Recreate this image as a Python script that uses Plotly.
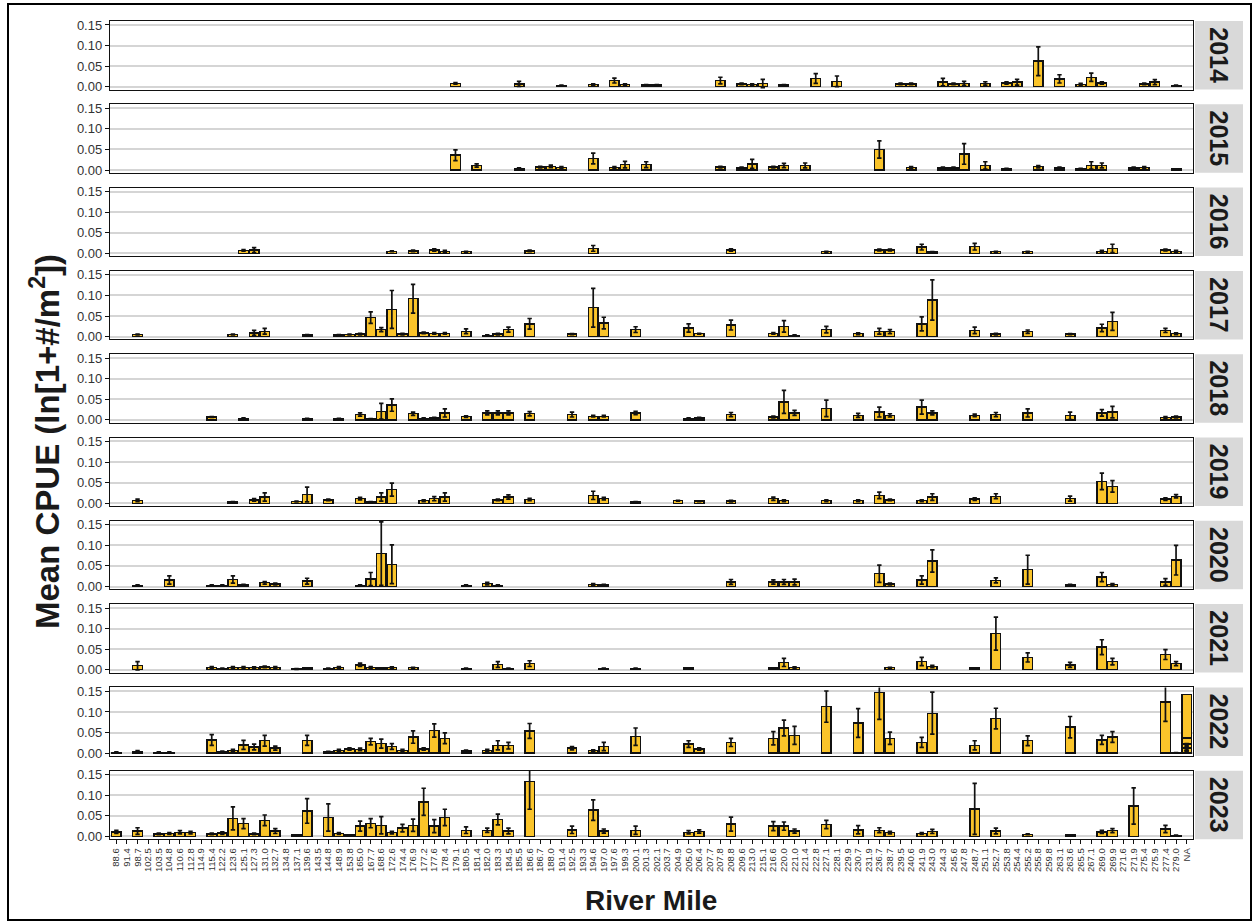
import plotly.graph_objects as go

# River-mile categories shared by every panel (order of the bottom axis)
river_miles = [
    "88.6", "91.4", "98.7", "102.5", "103.5", "104.8", "110.6", "112.8", "114.9", "115.4",
    "122.2", "123.6", "125.1", "127.3", "131.0", "132.7", "134.8", "137.1", "139.6", "143.5",
    "144.8", "148.9", "153.8", "165.0", "167.7", "168.6", "172.6", "174.4", "176.9", "177.2",
    "177.6", "178.4", "179.1", "180.5", "181.4", "182.0", "183.3", "184.5", "185.5", "186.6",
    "186.7", "188.0", "191.4", "192.5", "193.3", "194.6", "197.0", "197.6", "199.3", "200.1",
    "201.3", "202.1", "203.7", "204.9", "205.0", "206.4", "207.7", "207.8", "208.8", "209.6",
    "213.0", "215.1", "216.6", "220.0", "221.0", "221.4", "222.8", "227.1", "228.1", "229.9",
    "230.7", "231.9", "236.7", "238.7", "239.5", "240.6", "241.9", "243.0", "244.3", "245.6",
    "247.8", "248.7", "251.1", "252.7", "253.8", "254.4", "255.2", "255.8", "259.8", "263.1",
    "263.6", "265.5", "267.1", "269.0", "269.9", "271.6", "271.9", "275.4", "275.9", "277.4",
    "279.0", "NA",
]

years = [2014, 2015, 2016, 2017, 2018, 2019, 2020, 2021, 2022, 2023]

# ---- mean CPUE and standard error by river mile, one set of lists per year ----
rm_2014 = ["179.1", "185.5", "191.4", "194.6", "197.6", "199.3", "201.3", "202.1", "207.8", "209.6",
           "213.0", "215.1", "220.0", "222.8", "228.1", "239.5", "240.6", "244.3", "245.6", "247.8",
           "251.1", "253.8", "254.4", "255.8", "263.1", "265.5", "267.1", "269.0", "275.4", "275.9",
           "279.0"]
cpue_2014 = [0.008, 0.007, 0.003, 0.005, 0.015, 0.005, 0.004, 0.004, 0.015, 0.007,
             0.005, 0.008, 0.004, 0.020, 0.013, 0.007, 0.007, 0.011, 0.007, 0.008,
             0.008, 0.009, 0.011, 0.062, 0.019, 0.006, 0.023, 0.009, 0.007, 0.011,
             0.003]
se_2014 = [0.002, 0.006, 0.001, 0.002, 0.006, 0.002, 0.001, 0.001, 0.008, 0.002,
           0.002, 0.010, 0.001, 0.012, 0.013, 0.002, 0.002, 0.009, 0.002, 0.005,
           0.004, 0.003, 0.007, 0.035, 0.010, 0.002, 0.010, 0.003, 0.002, 0.006,
           0.001]

rm_2015 = ["179.1", "181.4", "185.5", "186.7", "188.0", "191.4", "194.6", "197.6", "199.3", "201.3",
           "207.8", "209.6", "213.0", "216.6", "220.0", "221.4", "236.7", "240.6", "244.3", "245.6",
           "247.8", "251.1", "253.8", "255.8", "263.1", "265.5", "267.1", "269.0", "271.9", "275.4",
           "279.0"]
cpue_2015 = [0.036, 0.011, 0.004, 0.007, 0.009, 0.006, 0.028, 0.006, 0.013, 0.013,
             0.007, 0.005, 0.015, 0.007, 0.011, 0.011, 0.050, 0.006, 0.005, 0.005,
             0.039, 0.011, 0.003, 0.008, 0.005, 0.003, 0.011, 0.011, 0.005, 0.006,
             0.002]
se_2015 = [0.013, 0.004, 0.001, 0.002, 0.003, 0.002, 0.013, 0.002, 0.008, 0.007,
           0.002, 0.002, 0.011, 0.002, 0.005, 0.006, 0.021, 0.002, 0.002, 0.002,
           0.025, 0.009, 0.001, 0.003, 0.002, 0.001, 0.009, 0.006, 0.002, 0.002,
           0.001]

rm_2016 = ["125.1", "127.3", "172.6", "176.9", "177.6", "178.4", "180.5", "186.6", "194.6", "208.8",
           "227.1", "236.7", "238.7", "241.9", "243.0", "248.7", "252.7", "255.2", "269.0", "269.9",
           "277.4", "279.0"]
cpue_2016 = [0.007, 0.008, 0.005, 0.006, 0.008, 0.005, 0.004, 0.006, 0.012, 0.008,
             0.004, 0.008, 0.008, 0.015, 0.003, 0.016, 0.004, 0.004, 0.005, 0.012,
             0.008, 0.005]
se_2016 = [0.002, 0.006, 0.001, 0.002, 0.003, 0.002, 0.001, 0.002, 0.007, 0.003,
           0.001, 0.002, 0.002, 0.007, 0.001, 0.008, 0.001, 0.001, 0.002, 0.010,
           0.002, 0.002]

rm_2017 = ["98.7", "123.6", "127.3", "131.0", "139.6", "148.9", "153.8", "165.0", "167.7", "168.6",
           "172.6", "174.4", "176.9", "177.2", "177.6", "178.4", "180.5", "182.0", "183.3", "184.5",
           "186.6", "192.5", "194.6", "197.0", "200.1", "205.0", "206.4", "208.8", "216.6", "220.0",
           "221.0", "227.1", "230.7", "236.7", "238.7", "241.9", "243.0", "248.7", "252.7", "255.2",
           "263.6", "269.0", "269.9", "277.4", "279.0"]
cpue_2017 = [0.005, 0.005, 0.009, 0.013, 0.004, 0.004, 0.005, 0.006, 0.046, 0.017,
             0.066, 0.006, 0.092, 0.009, 0.008, 0.008, 0.013, 0.003, 0.006, 0.017,
             0.031, 0.006, 0.070, 0.033, 0.017, 0.021, 0.007, 0.028, 0.008, 0.025,
             0.003, 0.017, 0.007, 0.013, 0.012, 0.031, 0.089, 0.015, 0.006, 0.012,
             0.006, 0.021, 0.037, 0.015, 0.007]
se_2017 = [0.001, 0.001, 0.006, 0.007, 0.001, 0.001, 0.001, 0.002, 0.014, 0.005,
           0.046, 0.002, 0.035, 0.002, 0.002, 0.002, 0.006, 0.001, 0.002, 0.006,
           0.013, 0.001, 0.047, 0.014, 0.007, 0.010, 0.001, 0.012, 0.002, 0.014,
           0.001, 0.008, 0.002, 0.007, 0.005, 0.017, 0.049, 0.008, 0.002, 0.004,
           0.001, 0.009, 0.022, 0.005, 0.002]

rm_2018 = ["115.4", "125.1", "139.6", "148.9", "165.0", "167.7", "168.6", "172.6", "176.9", "177.2",
           "177.6", "178.4", "180.5", "182.0", "183.3", "184.5", "186.6", "192.5", "194.6", "197.0",
           "200.1", "205.0", "206.4", "208.8", "216.6", "220.0", "221.0", "227.1", "230.7", "236.7",
           "238.7", "241.9", "243.0", "248.7", "252.7", "255.2", "263.6", "269.0", "269.9", "277.4",
           "279.0"]
cpue_2018 = [0.007, 0.004, 0.003, 0.003, 0.013, 0.002, 0.021, 0.036, 0.015, 0.004,
             0.005, 0.017, 0.008, 0.017, 0.017, 0.017, 0.015, 0.013, 0.009, 0.009,
             0.017, 0.004, 0.005, 0.013, 0.007, 0.044, 0.017, 0.028, 0.011, 0.019,
             0.011, 0.031, 0.017, 0.011, 0.013, 0.017, 0.010, 0.017, 0.019, 0.006,
             0.007]
se_2018 = [0.001, 0.001, 0.001, 0.001, 0.004, 0.001, 0.019, 0.015, 0.004, 0.001,
           0.001, 0.010, 0.002, 0.005, 0.005, 0.005, 0.005, 0.006, 0.002, 0.002,
           0.004, 0.001, 0.001, 0.005, 0.002, 0.028, 0.006, 0.020, 0.005, 0.012,
           0.004, 0.017, 0.005, 0.003, 0.005, 0.010, 0.009, 0.008, 0.014, 0.002,
           0.002]

rm_2019 = ["98.7", "123.6", "127.3", "131.0", "137.1", "139.6", "144.8", "165.0", "167.7", "168.6",
           "172.6", "177.2", "177.6", "178.4", "183.3", "184.5", "186.6", "194.6", "197.0", "200.1",
           "204.9", "206.4", "208.8", "216.6", "220.0", "227.1", "230.7", "236.7", "238.7", "241.9",
           "243.0", "248.7", "252.7", "263.6", "269.0", "269.9", "277.4", "279.0"]
cpue_2019 = [0.007, 0.003, 0.008, 0.015, 0.004, 0.021, 0.008, 0.011, 0.003, 0.015,
             0.033, 0.006, 0.011, 0.015, 0.008, 0.015, 0.009, 0.019, 0.011, 0.003,
             0.006, 0.005, 0.005, 0.011, 0.006, 0.006, 0.006, 0.019, 0.008, 0.006,
             0.015, 0.010, 0.017, 0.011, 0.053, 0.041, 0.010, 0.017]
se_2019 = [0.003, 0.001, 0.003, 0.010, 0.001, 0.018, 0.002, 0.003, 0.001, 0.010,
           0.016, 0.002, 0.005, 0.010, 0.002, 0.005, 0.003, 0.010, 0.003, 0.001,
           0.001, 0.001, 0.002, 0.004, 0.002, 0.002, 0.002, 0.008, 0.002, 0.002,
           0.008, 0.003, 0.006, 0.006, 0.020, 0.014, 0.003, 0.004]

rm_2020 = ["98.7", "104.8", "115.4", "122.2", "123.6", "125.1", "131.0", "132.7", "139.6", "165.0",
           "167.7", "168.6", "172.6", "180.5", "182.0", "183.3", "194.6", "197.0", "208.8", "216.6",
           "220.0", "221.0", "236.7", "238.7", "241.9", "243.0", "252.7", "255.2", "263.6", "269.0",
           "269.9", "277.4", "279.0"]
cpue_2020 = [0.003, 0.016, 0.003, 0.003, 0.017, 0.004, 0.009, 0.006, 0.013, 0.003,
             0.018, 0.080, 0.054, 0.003, 0.007, 0.003, 0.005, 0.004, 0.011, 0.011,
             0.011, 0.011, 0.031, 0.006, 0.016, 0.062, 0.015, 0.041, 0.004, 0.023,
             0.005, 0.011, 0.064]
se_2020 = [0.001, 0.010, 0.001, 0.001, 0.009, 0.001, 0.003, 0.002, 0.007, 0.001,
           0.016, 0.077, 0.047, 0.001, 0.003, 0.001, 0.002, 0.001, 0.006, 0.005,
           0.006, 0.007, 0.021, 0.002, 0.010, 0.027, 0.006, 0.035, 0.001, 0.011,
           0.002, 0.008, 0.036]

rm_2021 = ["98.7", "115.4", "122.2", "123.6", "125.1", "127.3", "131.0", "132.7", "137.1", "139.6",
           "144.8", "148.9", "165.0", "167.7", "168.6", "172.6", "176.9", "180.5", "183.3", "184.5",
           "186.6", "197.0", "200.1", "205.0", "216.6", "220.0", "221.0", "238.7", "241.9", "243.0",
           "248.7", "252.7", "255.2", "263.6", "269.0", "269.9", "277.4", "279.0"]
cpue_2021 = [0.010, 0.006, 0.003, 0.006, 0.006, 0.005, 0.007, 0.006, 0.002, 0.004,
             0.003, 0.006, 0.012, 0.006, 0.004, 0.005, 0.005, 0.003, 0.013, 0.003,
             0.015, 0.003, 0.003, 0.004, 0.004, 0.018, 0.005, 0.005, 0.020, 0.008,
             0.004, 0.088, 0.030, 0.012, 0.055, 0.020, 0.037, 0.015]
se_2021 = [0.010, 0.002, 0.001, 0.002, 0.002, 0.002, 0.002, 0.002, 0.001, 0.001,
           0.001, 0.002, 0.004, 0.002, 0.001, 0.002, 0.001, 0.001, 0.007, 0.001,
           0.007, 0.001, 0.001, 0.001, 0.001, 0.010, 0.002, 0.001, 0.010, 0.003,
           0.001, 0.040, 0.011, 0.006, 0.018, 0.008, 0.012, 0.005]

rm_2022 = ["88.6", "98.7", "103.5", "104.8", "115.4", "122.2", "123.6", "125.1", "127.3", "131.0",
           "132.7", "139.6", "144.8", "148.9", "153.8", "165.0", "167.7", "168.6", "172.6", "174.4",
           "176.9", "177.2", "177.6", "178.4", "180.5", "182.0", "183.3", "184.5", "186.6", "192.5",
           "194.6", "197.0", "200.1", "205.0", "206.4", "208.8", "216.6", "220.0", "221.0", "227.1",
           "230.7", "236.7", "238.7", "241.9", "243.0", "248.7", "252.7", "255.2", "263.6", "269.0",
           "269.9", "277.4", "279.0"]
cpue_2022 = [0.002, 0.004, 0.002, 0.002, 0.032, 0.004, 0.007, 0.020, 0.015, 0.030,
             0.012, 0.031, 0.003, 0.007, 0.010, 0.009, 0.028, 0.023, 0.016, 0.007,
             0.039, 0.010, 0.055, 0.036, 0.005, 0.007, 0.019, 0.018, 0.054, 0.012,
             0.006, 0.016, 0.040, 0.022, 0.010, 0.026, 0.036, 0.061, 0.043, 0.113,
             0.073, 0.148, 0.036, 0.026, 0.097, 0.019, 0.084, 0.030, 0.063, 0.032,
             0.039, 0.124, 0.001]
se_2022 = [0.001, 0.002, 0.001, 0.001, 0.013, 0.001, 0.002, 0.011, 0.007, 0.013,
           0.005, 0.012, 0.001, 0.002, 0.003, 0.003, 0.008, 0.011, 0.007, 0.002,
           0.015, 0.003, 0.016, 0.013, 0.002, 0.002, 0.011, 0.008, 0.018, 0.004,
           0.002, 0.010, 0.021, 0.008, 0.003, 0.010, 0.016, 0.019, 0.022, 0.038,
           0.035, 0.066, 0.015, 0.012, 0.051, 0.011, 0.025, 0.012, 0.026, 0.011,
           0.013, 0.047, 0.0005]
# sites without a recorded river mile in 2022, stacked in the NA column
na_2022_cpue = [0.012, 0.010, 0.015, 0.105]
na_2022_se = [0.006, 0.005, 0.008, None]

rm_2023 = ["88.6", "98.7", "103.5", "104.8", "110.6", "112.8", "115.4", "122.2", "123.6", "125.1",
           "127.3", "131.0", "132.7", "137.1", "139.6", "144.8", "148.9", "153.8", "165.0", "167.7",
           "168.6", "172.6", "174.4", "176.9", "177.2", "177.6", "178.4", "180.5", "182.0", "183.3",
           "184.5", "186.6", "192.5", "194.6", "197.0", "200.1", "205.0", "206.4", "208.8", "216.6",
           "220.0", "221.0", "227.1", "230.7", "236.7", "238.7", "241.9", "243.0", "248.7", "252.7",
           "255.2", "263.6", "269.0", "269.9", "271.9", "277.4", "279.0"]
cpue_2023 = [0.011, 0.013, 0.006, 0.007, 0.010, 0.009, 0.006, 0.008, 0.044, 0.031,
             0.006, 0.039, 0.013, 0.003, 0.062, 0.046, 0.007, 0.003, 0.025, 0.032,
             0.027, 0.009, 0.020, 0.027, 0.084, 0.025, 0.046, 0.015, 0.015, 0.041,
             0.013, 0.133, 0.016, 0.064, 0.013, 0.015, 0.010, 0.012, 0.030, 0.025,
             0.025, 0.013, 0.029, 0.016, 0.015, 0.009, 0.007, 0.012, 0.067, 0.013,
             0.005, 0.003, 0.011, 0.014, 0.074, 0.018, 0.002]
se_2023 = [0.004, 0.008, 0.002, 0.002, 0.004, 0.003, 0.002, 0.003, 0.028, 0.012,
           0.002, 0.013, 0.006, 0.001, 0.030, 0.033, 0.002, 0.001, 0.012, 0.011,
           0.021, 0.003, 0.009, 0.015, 0.033, 0.016, 0.020, 0.008, 0.005, 0.013,
           0.007, 0.067, 0.009, 0.025, 0.005, 0.010, 0.004, 0.004, 0.017, 0.011,
           0.010, 0.005, 0.010, 0.010, 0.006, 0.003, 0.002, 0.005, 0.062, 0.007,
           0.001, 0.001, 0.004, 0.005, 0.044, 0.009, 0.001]

panel_data = {
    2014: (rm_2014, cpue_2014, se_2014),
    2015: (rm_2015, cpue_2015, se_2015),
    2016: (rm_2016, cpue_2016, se_2016),
    2017: (rm_2017, cpue_2017, se_2017),
    2018: (rm_2018, cpue_2018, se_2018),
    2019: (rm_2019, cpue_2019, se_2019),
    2020: (rm_2020, cpue_2020, se_2020),
    2021: (rm_2021, cpue_2021, se_2021),
    2022: (rm_2022, cpue_2022, se_2022),
    2023: (rm_2023, cpue_2023, se_2023),
}

# ---- styling ----
BAR_FILL = "#FAC42A"
OUTLINE = "#111111"
GRID = "#D5D5D5"
STRIP_FILL = "#D9D9D9"
TEXT = "#1A1A1A"
TICK_TEXT = "#333333"
FONT = "Liberation Sans, Arial, sans-serif"

W, H = 1254, 923
M_L, M_R, M_T, M_B = 110, 61, 21, 83
PLOT_W = W - M_L - M_R
PLOT_H = H - M_T - M_B
PANEL_H = 68.5
PITCH = 83.3
Y_RANGE = [-0.0068, 0.1597]


def paper_x(px):
    return (px - M_L) / PLOT_W


def paper_y(py):
    return (H - M_B - py) / PLOT_H


def clamp01(v):
    return min(1.0, max(0.0, v))


def full_series(rms, vals):
    lookup = dict(zip(rms, vals))
    return [lookup.get(rm) for rm in river_miles]


fig = go.Figure()
shapes = []
annotations = []
n_panels = len(years)

for i, yr in enumerate(years):
    k = "" if i == 0 else str(i + 1)
    xref, yref = "x" + k, "y" + k
    rms, vals, ses = panel_data[yr]
    y_full = full_series(rms, vals)
    se_full = full_series(rms, ses)

    fig.add_trace(go.Bar(
        x=river_miles, y=y_full, xaxis=xref, yaxis=yref, width=0.9,
        marker=dict(color=BAR_FILL, line=dict(color=OUTLINE, width=1.4)),
        showlegend=False, hoverinfo="x+y",
    ))
    err_x, err_y, err_se = list(river_miles), list(y_full), list(se_full)

    if yr == 2022:
        for v, s in zip(na_2022_cpue, na_2022_se):
            fig.add_trace(go.Bar(
                x=["NA"], y=[v], xaxis=xref, yaxis=yref, width=0.9,
                marker=dict(color=BAR_FILL, line=dict(color=OUTLINE, width=1.4)),
                showlegend=False,
            ))
            if s is not None:
                err_x.append("NA")
                err_y.append(v)
                err_se.append(s)

    fig.add_trace(go.Scatter(
        x=err_x, y=err_y, xaxis=xref, yaxis=yref, mode="markers",
        marker=dict(color="rgba(0,0,0,0)", size=1),
        error_y=dict(type="data", array=err_se, symmetric=True,
                     color=OUTLINE, thickness=1.7, width=2.2),
        showlegend=False, hoverinfo="skip",
    ))

    top_px = M_T + PITCH * i
    bot_px = top_px + PANEL_H
    dom = [clamp01(paper_y(bot_px)), clamp01(paper_y(top_px))]
    last = i == n_panels - 1

    xa = dict(
        domain=[0, 1], anchor=yref, type="category",
        categoryorder="array", categoryarray=river_miles,
        range=[-0.6, len(river_miles) - 0.4],
        tickmode="array", tickvals=river_miles, ticktext=river_miles,
        showgrid=False, zeroline=False,
        showline=True, mirror=True, linecolor=OUTLINE, linewidth=1.4,
        ticks="outside" if last else "", ticklen=4, tickwidth=1.2, tickcolor=OUTLINE,
        showticklabels=last, tickangle=-90,
        tickfont=dict(family=FONT, size=9.5, color=TICK_TEXT),
    )
    if i > 0:
        xa["matches"] = "x"
    fig.layout["xaxis" + k] = xa
    fig.layout["yaxis" + k] = dict(
        domain=dom, anchor=xref, range=Y_RANGE,
        tickvals=[0, 0.05, 0.10, 0.15], ticktext=["0.00", "0.05", "0.10", "0.15"],
        showgrid=True, gridcolor=GRID, gridwidth=1.6, zeroline=False,
        showline=True, mirror=True, linecolor=OUTLINE, linewidth=1.4,
        ticks="outside", ticklen=4, tickwidth=1.3, tickcolor=OUTLINE,
        tickfont=dict(family=FONT, size=13, color=TICK_TEXT),
    )

    # facet strip on the right
    shapes.append(dict(
        type="rect", xref="paper", yref="paper", layer="below",
        x0=paper_x(1195), x1=paper_x(1243), y0=dom[0], y1=dom[1],
        fillcolor=STRIP_FILL, line=dict(width=0),
    ))
    annotations.append(dict(
        xref="paper", yref="paper", x=paper_x(1219), y=(dom[0] + dom[1]) / 2,
        text=str(yr), textangle=90, showarrow=False,
        font=dict(family=FONT, size=25, color=TEXT, weight="bold"),
        xanchor="center", yanchor="middle",
    ))

# outer frame around the whole figure
shapes.append(dict(
    type="rect", xref="paper", yref="paper",
    x0=paper_x(8), x1=paper_x(1251), y0=paper_y(920), y1=paper_y(4),
    line=dict(color="#000000", width=2), fillcolor="rgba(0,0,0,0)",
))

annotations.append(dict(
    xref="paper", yref="paper", x=paper_x(651), y=paper_y(900),
    text="River Mile", showarrow=False,
    font=dict(family=FONT, size=28, color=TEXT, weight="bold"),
    xanchor="center", yanchor="middle",
))
annotations.append(dict(
    xref="paper", yref="paper", x=paper_x(45), y=paper_y(442),
    text="Mean CPUE (ln[1+#/m<sup>2</sup>])", textangle=-90, showarrow=False,
    font=dict(family=FONT, size=33, color=TEXT, weight="bold"),
    xanchor="center", yanchor="middle",
))

fig.update_layout(
    width=W, height=H,
    margin=dict(l=M_L, r=M_R, t=M_T, b=M_B, pad=0),
    paper_bgcolor="white", plot_bgcolor="white",
    barmode="stack", bargap=0.1,
    shapes=shapes, annotations=annotations,
    font=dict(family=FONT, color=TEXT),
    showlegend=False,
)

fig.write_html("out.html")
